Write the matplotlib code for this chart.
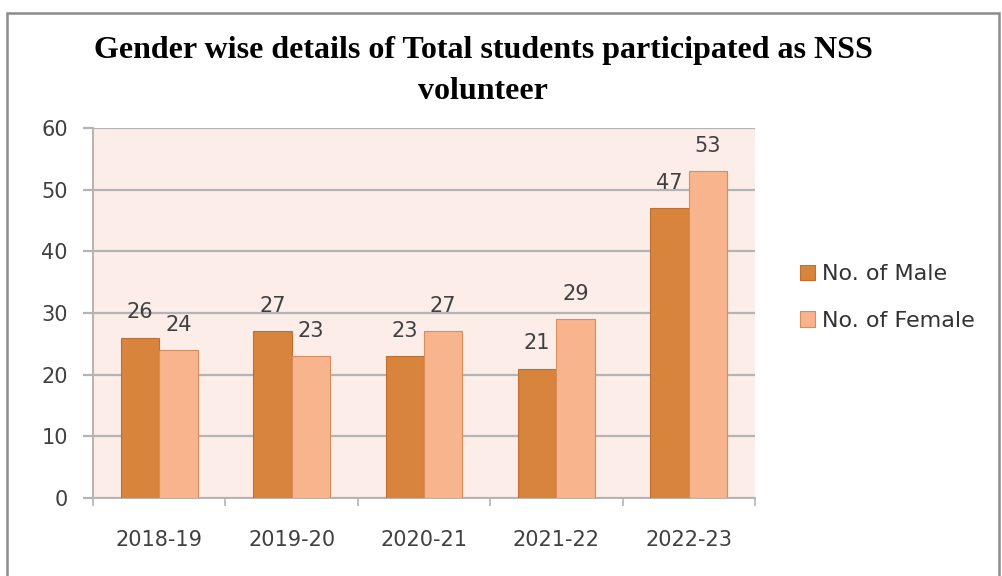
import numpy as np
import matplotlib.pyplot as plt
from matplotlib.patches import Rectangle

# Data
years = ['2018-19', '2019-20', '2020-21', '2021-22', '2022-23']
male = [26, 27, 23, 21, 47]
female = [24, 23, 27, 29, 53]

male_color = '#D9843C'
female_color = '#F8B48C'
grid_color = '#B4B4B4'
text_color = '#404040'

fig = plt.figure(figsize=(10.02, 5.76), dpi=100)
ax = fig.add_axes([0.0928, 0.1354, 0.6607, 0.6424])
ax.set_facecolor('#FCEDE8')

x = np.arange(len(years))
w = 0.29
b1 = ax.bar(x - w / 2, male, w, color=male_color, edgecolor='#C06F30', linewidth=0.8,
            label='No. of Male', zorder=3)
b2 = ax.bar(x + w / 2, female, w, color=female_color, edgecolor='#D98C5C', linewidth=0.8,
            label='No. of Female', zorder=3)

# value labels
for bars in (b1, b2):
    for bar in bars:
        h = bar.get_height()
        ax.annotate(str(h), (bar.get_x() + bar.get_width() / 2, h),
                    xytext=(0, 11), textcoords='offset points', ha='center', va='bottom',
                    fontsize=15, color=text_color)

ax.set_xlim(-0.5, len(years) - 0.5)
ax.set_ylim(0, 60)
ax.set_yticks(np.arange(0, 61, 10))
ax.grid(axis='y', color=grid_color, linewidth=1.6, zorder=0)

ax.set_xticks(x)
ax.set_xticklabels(years)
ax.set_xticks(np.arange(-0.5, len(years)), minor=True)
ax.tick_params(axis='x', which='major', length=0, pad=23, labelsize=15, labelcolor=text_color)
ax.tick_params(axis='x', which='minor', length=6, color=grid_color, width=1.2)
ax.tick_params(axis='y', length=7, color=grid_color, width=1.6, pad=11,
               labelsize=15, labelcolor=text_color)

for s in ('top', 'right'):
    ax.spines[s].set_visible(False)
for s in ('left', 'bottom'):
    ax.spines[s].set_color(grid_color)
    ax.spines[s].set_linewidth(1.4)

leg = fig.legend(handles=[b1, b2], loc='center left', bbox_to_anchor=(0.798, 0.4835),
                 frameon=False, fontsize=16, handlelength=0.7, handleheight=0.7,
                 handletextpad=0.3, labelspacing=1.2, labelcolor='#333333',
                 borderaxespad=0, borderpad=0)

fig.text(0.482, 0.8765, 'Gender wise details of Total students participated as NSS\nvolunteer',
         ha='center', va='center', fontsize=23, fontweight='bold',
         family='Liberation Serif', linespacing=1.55)

# outer chart border
fig.patches.append(Rectangle((7 / 1002, -0.01), 992 / 1002, 1 - 13 / 576 + 0.01,
                             transform=fig.transFigure, fill=False,
                             edgecolor='#8C8C8C', linewidth=1.8))

fig.savefig('out.png', dpi=100)
